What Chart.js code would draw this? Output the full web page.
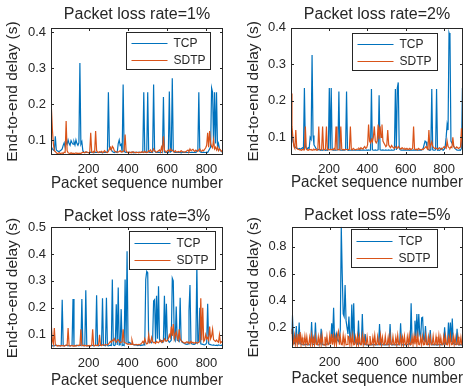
<!DOCTYPE html>
<html>
<head>
<meta charset="utf-8">
<script src="https://cdn.jsdelivr.net/npm/chart.js@4.4.1/dist/chart.umd.min.js"></script>
<style>
  html, body { margin: 0; padding: 0; background: #fff; }
  #wrap { position: relative; width: 467px; height: 390px; overflow: hidden; }
  canvas { position: absolute; }
</style>
</head>
<body>
<div id="wrap">
  <canvas id="c1" width="233" height="195" style="left:0;top:0"></canvas>
  <canvas id="c2" width="234" height="195" style="left:233px;top:0"></canvas>
  <canvas id="c3" width="233" height="195" style="left:0;top:195px"></canvas>
  <canvas id="c4" width="234" height="195" style="left:233px;top:195px"></canvas>
</div>
<script>
// packet sequence numbers, one sample every 5 packets
const seq = Array.from({length: 180}, (_, i) => 1 + 5 * i);

const seriesNames = ['TCP', 'SDTP'];
const lossRates = ['1%', '2%', '3%', '5%'];
const xTicks = [200, 400, 600, 800];
const yTicksA = [0.1, 0.2, 0.3, 0.4];
const yTicksB = [0.1, 0.2, 0.3, 0.4, 0.5];
const yTicksC = [0.2, 0.4, 0.6, 0.8];

// end-to-end delay in ms
const tcp1Ms = [
  85,88,80,75,72,70,110,72,70,68, 68,70,72,75,85,92,80,95,88,100,
  90,85,98,92,88,95,86,100,90,85, 92,315,88,95,70,66,65,65,66,65,
  65,65,66,65,65,64,65,66,65,65, 65,66,65,65,64,65,66,65,65,66,
  233,80,75,72,68,66,65,67,66,65, 90,100,85,88,65,255,70,66,65,65,
  65,66,65,65,66,65,64,65,66,65, 65,66,65,65,65,66,233,66,65,65,
  233,66,65,65,66,65,255,70,66,65, 65,66,65,65,65,66,220,66,65,65,
  66,65,235,66,68,272,70,66,65,65, 65,66,65,65,64,65,66,65,65,66,
  65,65,66,65,65,66,65,65,66,65, 68,70,233,68,66,65,65,66,65,65,
  66,65,70,75,80,245,233,85,233,90, 233,80,90,75,70,68,66,65,65,66
];
const sdtp1Ms = [
  200,200,190,130,90,70,68,64,62,63, 65,62,63,64,62,66,65,153,70,64,
  63,62,64,62,63,62,63,64,62,63, 62,63,62,64,66,65,64,67,66,65,
  64,66,120,66,65,68,66,125,70,66, 65,67,66,68,65,66,70,67,66,65,
  68,75,80,72,82,78,70,68,66,67, 66,68,70,66,68,67,72,115,70,66,
  65,66,64,66,65,67,66,65,64,66, 65,64,66,65,67,66,65,68,66,65,
  66,70,68,72,66,68,75,70,67,66, 68,70,72,66,80,70,110,72,68,66,
  70,72,68,75,70,72,68,66,70,67, 66,68,67,66,70,68,66,67,66,68,
  70,72,68,75,70,72,74,70,68,72, 70,68,72,75,70,68,72,70,74,78,
  85,120,80,125,90,82,78,100,75,80, 72,80,70,75,72,68,70,66,68,70
];
const tcp2Ms = [
  95,110,90,80,75,72,70,70,68,70, 68,70,72,70,235,75,70,68,72,70,
  100,95,325,105,80,75,70,68,66,67, 66,65,66,65,67,66,65,66,65,66,
  235,68,235,66,65,65,66,65,65,66, 225,66,65,65,66,65,65,66,225,66,
  65,66,65,65,66,65,65,66,65,65, 65,66,65,66,65,65,66,65,65,66,
  65,66,65,65,232,66,65,65,66,65, 65,66,215,66,65,65,66,65,65,66,
  65,65,66,65,65,66,65,65,66,232, 66,235,250,70,66,65,65,66,65,65,
  66,65,65,66,65,66,65,65,66,65, 65,66,65,65,66,65,65,66,70,80,
  90,88,75,68,66,65,66,232,66,65, 65,66,232,65,66,65,66,70,66,65,
  68,75,100,135,120,385,375,90,85,80, 75,70,68,66,65,65,66,65,70,235
];
const sdtp2Ms = [
  220,130,100,75,70,120,70,68,67,66, 66,65,67,66,66,130,68,66,65,67,
  66,67,65,66,68,66,67,65,66,130, 67,66,68,130,66,67,68,130,66,68,
  66,67,66,68,66,70,67,130,68,66, 67,66,130,68,66,67,66,68,67,66,
  67,68,130,67,66,70,68,66,67,68, 68,70,67,72,70,68,72,75,70,72,
  80,135,90,85,95,88,100,130,90,85, 90,135,95,130,100,135,90,85,80,75,
  78,120,80,75,72,78,74,72,70,75, 72,70,75,72,70,68,72,70,68,70,
  68,70,67,68,70,67,68,70,130,68, 67,68,66,70,68,67,66,68,67,70,
  72,75,70,68,120,72,80,88,75,72, 70,72,70,68,70,72,70,68,70,72,
  75,72,70,90,75,72,70,74,72,100, 75,72,70,74,72,70,72,74,125,68
];
const tcp3Ms = [
  60,62,60,59,60,59,60,61,60,59, 60,59,60,230,60,59,60,61,60,59,
  60,59,60,61,233,60,59,60,61,60, 59,60,60,233,60,59,60,265,60,59,
  60,59,60,61,60,59,60,61,247,60, 59,60,61,60,235,60,60,59,237,60,
  59,60,61,60,305,62,60,62,213,62, 275,62,63,195,60,62,60,305,70,410,
  68,72,70,66,65,64,62,63,62,61, 60,62,61,60,62,61,63,62,305,335,
  330,75,80,72,70,80,225,230,72,245, 85,280,80,75,78,72,80,245,75,215,
  80,78,72,75,80,310,300,85,78,205, 80,78,75,237,80,72,70,68,66,65,
  64,66,190,285,70,66,65,64,65,70, 360,72,80,200,66,65,64,63,62,64,
  70,215,66,64,63,62,61,62,61,60, 61,60,62,61,60,61,60,62,61,60
];
const sdtp3Ms = [
  185,185,130,80,65,125,62,60,58,60, 59,58,60,59,60,58,59,61,60,125,
  60,58,59,60,58,59,60,58,59,60, 61,60,120,59,60,61,59,60,58,60,
  59,60,58,61,120,60,59,62,60,61, 60,100,61,60,63,61,62,64,62,62,
  64,70,75,72,80,78,85,76,72,80, 82,75,70,72,74,120,72,70,68,66,
  64,66,65,64,80,65,63,62,64,63, 62,64,63,66,70,75,68,85,72,66,
  68,100,70,72,90,75,70,72,68,75, 72,70,75,80,72,78,74,85,80,76,
  78,85,100,90,130,95,140,85,100,110, 90,80,120,85,78,75,72,70,68,72,
  74,70,72,68,75,70,72,68,70,72, 68,70,72,74,235,80,200,75,80,100,
  85,90,80,130,85,95,120,82,78,75, 80,75,72,100,70,74,72,70,68,72
];
const tcp4Ms = [
  150,290,110,80,75,210,90,80,235,80, 75,72,70,72,70,75,72,70,72,70,
  72,240,75,72,72,235,75,72,70,72, 75,190,72,70,72,70,72,75,80,78,
  85,90,230,120,345,110,100,150,105,95, 120,180,950,600,300,280,515,250,200,150,
  280,120,100,370,95,380,90,85,80,75, 250,80,75,72,300,75,72,150,72,70,
  70,72,70,72,70,72,70,72,70,72, 70,72,225,70,72,70,72,70,70,72,
  70,72,70,225,72,70,72,70,72,70, 72,70,72,70,230,72,70,72,70,72,
  70,72,75,80,72,380,90,85,100,250, 120,300,130,300,150,120,270,275,110,100,
  210,90,80,75,72,180,72,70,72,70, 72,70,72,70,72,70,72,70,72,75,
  200,75,72,72,235,80,235,90,265,80, 75,72,72,190,72,70,72,70,72,70
];
const sdtp4Ms = [
  190,100,80,140,72,130,70,150,72,165, 70,125,72,70,135,72,130,70,72,125,
  70,140,72,120,70,135,72,70,130,72, 125,70,140,72,70,130,72,135,70,72,
  140,72,150,70,135,72,130,70,140,170, 70,130,72,70,140,72,125,70,72,135,
  130,70,130,72,140,70,72,125,70,135, 72,130,70,72,140,70,125,72,70,130,
  72,70,135,72,70,125,72,140,70,72, 130,72,70,140,72,125,70,72,135,70,
  72,125,70,140,72,70,130,72,70,125, 70,140,72,70,130,72,125,70,135,72,
  70,130,72,140,70,72,125,70,135,72, 130,70,140,72,70,125,72,130,70,72,
  140,72,70,130,72,125,70,72,135,70, 72,130,70,72,140,70,125,72,70,130,
  70,135,72,70,125,72,140,70,72,130, 72,125,70,72,130,70,72,125,70,72
];

const xLabel = 'Packet sequence number';
const yLabel = 'End-to-end delay (s)';
const ink = '#262626';

Chart.defaults.font.family = '"Liberation Sans", Arial, Helvetica, sans-serif';
Chart.defaults.color = ink;

function toPoints(ms) {
  return ms.map((v, i) => ({x: seq[i], y: v / 1000}));
}

// MATLAB-like box, inward ticks and a legend inside the axes
const matlabFrame = {
  id: 'matlabFrame',
  afterDraw(chart, args, o) {
    const {ctx, chartArea: a, scales: {x, y}} = chart;
    const L = Math.round(a.left) + 0.5, R = Math.round(a.right) - 0.5;
    const T = Math.round(a.top) + 0.5, B = Math.round(a.bottom) - 0.5;
    ctx.save();
    ctx.strokeStyle = ink;
    ctx.lineWidth = 1;
    ctx.beginPath();
    x.ticks.forEach(t => {
      const px = Math.round(x.getPixelForValue(t.value)) + 0.5;
      ctx.moveTo(px, B); ctx.lineTo(px, B - 2.5);
      ctx.moveTo(px, T); ctx.lineTo(px, T + 2.5);
    });
    y.ticks.forEach(t => {
      const py = Math.round(y.getPixelForValue(t.value)) + 0.5;
      ctx.moveTo(L, py); ctx.lineTo(L + 2.5, py);
      ctx.moveTo(R, py); ctx.lineTo(R - 2.5, py);
    });
    ctx.stroke();
    ctx.strokeRect(L, T, R - L, B - T);

    const bx = Math.round(a.right - o.right - o.w) + 0.5;
    const by = Math.round(a.top + o.top) + 0.5;
    ctx.fillStyle = '#fff';
    ctx.fillRect(bx, by, o.w, o.h);
    ctx.strokeRect(bx, by, o.w, o.h);
    ctx.font = '12px "Liberation Sans", Arial, sans-serif';
    ctx.textBaseline = 'middle';
    chart.data.datasets.forEach((ds, k) => {
      const cy = Math.round(by + o.h * (k === 0 ? 0.29 : 0.74)) + 0.5;
      ctx.strokeStyle = ds.borderColor;
      ctx.lineWidth = ds.borderWidth;
      ctx.beginPath();
      ctx.moveTo(bx + 5, cy); ctx.lineTo(bx + 41, cy);
      ctx.stroke();
      ctx.fillStyle = ink;
      ctx.fillText(ds.label, bx + 47, cy);
    });
    ctx.restore();
  }
};

const panels = [
  {id: 'c1', tcp: tcp1Ms, sdtp: sdtp1Ms, rate: lossRates[0], xMin: 9, xMax: 884, yMin: 0.058, yMax: 0.412, yTicks: yTicksA,
   yW: 51, xH: 40, padR: 10, tPad: {top: 5, bottom: 4}, yTPad: 3, xTPad: 1.5, legend: {right: 13, top: 4, w: 84, h: 37}},
  {id: 'c2', tcp: tcp2Ms, sdtp: sdtp2Ms, rate: lossRates[1], xMin: 1, xMax: 899, yMin: 0.052, yMax: 0.4, yTicks: yTicksA,
   yW: 58, xH: 40, padR: 4, tPad: {top: 5, bottom: 3.3}, yTPad: 11.4, xTPad: 2.2, legend: {right: 26, top: 5, w: 85, h: 37}},
  {id: 'c3', tcp: tcp3Ms, sdtp: sdtp3Ms, rate: lossRates[2], xMin: 9, xMax: 884, yMin: 0.047, yMax: 0.5, yTicks: yTicksB,
   yW: 51, xH: 41, padR: 10, tPad: {top: 11.8, bottom: 1}, yTPad: 3, xTPad: 0, legend: {right: 8, top: 4, w: 86, h: 38}},
  {id: 'c4', tcp: tcp4Ms, sdtp: sdtp4Ms, rate: lossRates[3], xMin: 1, xMax: 897, yMin: 0.046, yMax: 0.95, yTicks: yTicksC,
   yW: 58.5, xH: 42, padR: 4, tPad: {top: 10.8, bottom: 1.7}, yTPad: 11.4, xTPad: 1.6, legend: {right: 26, top: 2, w: 86, h: 38}}
];

panels.forEach(p => {
  new Chart(document.getElementById(p.id), {
    type: 'line',
    data: {
      datasets: [
        {label: seriesNames[0], data: toPoints(p.tcp), borderColor: '#0072BD', borderWidth: 1.2, pointRadius: 0, order: 2},
        {label: seriesNames[1], data: toPoints(p.sdtp), borderColor: '#D95319', borderWidth: 1.2, pointRadius: 0, order: 1}
      ]
    },
    options: {
      responsive: false,
      animation: false,
      parsing: false,
      normalized: true,
      layout: {padding: {left: 0, right: p.padR, top: 0, bottom: 0}},
      plugins: {
        legend: {display: false},
        tooltip: {enabled: false},
        title: {display: true, text: 'Packet loss rate=' + p.rate, fullSize: false, color: ink,
                font: {size: 16, weight: 'normal'}, padding: p.tPad},
        matlabFrame: p.legend
      },
      scales: {
        x: {
          type: 'linear', min: p.xMin, max: p.xMax,
          grid: {display: false, drawTicks: false}, border: {display: false},
          afterBuildTicks: s => { s.ticks = xTicks.map(v => ({value: v})); },
          afterFit: s => { s.height = p.xH; },
          ticks: {autoSkip: false, maxRotation: 0, padding: 7, font: {size: 13}, callback: v => String(v)},
          title: {display: true, text: xLabel, font: {size: 16.5}, padding: {top: 0, bottom: p.xTPad}}
        },
        y: {
          type: 'linear', min: p.yMin, max: p.yMax,
          grid: {display: false, drawTicks: false}, border: {display: false},
          afterBuildTicks: s => { s.ticks = p.yTicks.map(v => ({value: v})); },
          afterFit: s => { s.width = p.yW; },
          ticks: {autoSkip: false, padding: 5, font: {size: 13}, callback: v => v.toFixed(1)},
          title: {display: true, text: yLabel, font: {size: 15.5}, padding: {top: p.yTPad, bottom: 0}}
        }
      }
    },
    plugins: [matlabFrame]
  });
});
</script>
</body>
</html>
